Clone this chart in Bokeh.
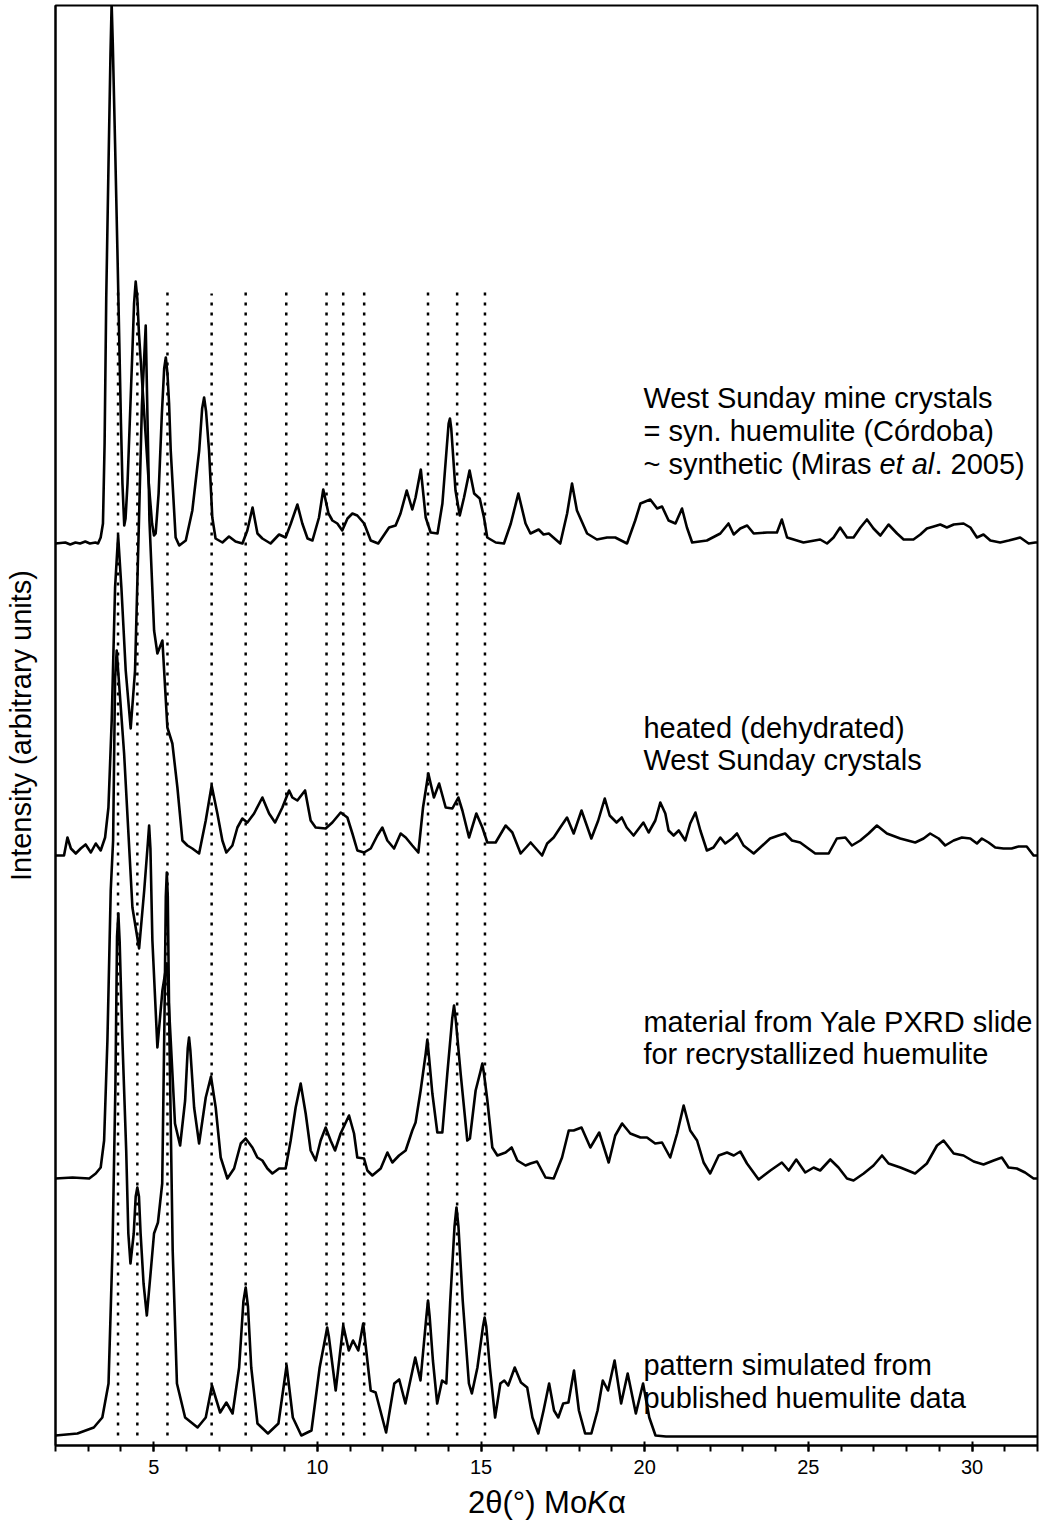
from bokeh.plotting import figure
from bokeh.models import Range1d, SingleIntervalTicker, FixedTicker, Label
from bokeh.layouts import column
from bokeh.core.properties import value
from bokeh.embed import file_html
from bokeh.resources import INLINE

# ---------------- data (2θ in degrees, intensity in arbitrary units above each pattern's own baseline) ----------------
west_sunday_2theta = [2.00, 2.30, 2.45, 2.61, 2.75, 2.91, 3.05, 3.22, 3.30, 3.38, 3.45, 3.50, 3.55, 3.62, 3.68, 3.715,
                      3.75, 3.82, 3.89, 3.95, 4.00, 4.045, 4.10, 4.14, 4.20, 4.35, 4.40, 4.45, 4.50, 4.55, 4.65, 4.75,
                      4.85, 4.95, 5.01, 5.06, 5.15, 5.25, 5.32, 5.37, 5.42, 5.47, 5.52, 5.67, 5.78, 5.98, 6.18, 6.39,
                      6.48, 6.54, 6.60, 6.69, 6.79, 6.89,
                      7.10, 7.30, 7.50, 7.71, 7.86, 8.02, 8.17, 8.32, 8.57, 8.83, 9.03, 9.19, 9.39, 9.54, 9.70, 9.85,
                      10.05, 10.18, 10.34, 10.46, 10.61, 10.76, 10.92, 11.07, 11.22, 11.43, 11.63, 11.86, 12.19, 12.39,
                      12.54, 12.73, 12.90, 13.00, 13.16, 13.31, 13.46, 13.67, 13.82, 13.95, 14.01, 14.05, 14.09, 14.22,
                      14.35, 14.48, 14.65,
                      14.79, 14.96, 15.09, 15.19, 15.45, 15.70, 15.91, 16.14, 16.36, 16.51, 16.76, 16.91, 17.07, 17.42,
                      17.63, 17.78, 17.93, 18.24, 18.54, 18.85, 19.10, 19.46, 19.71, 19.87, 20.17, 20.38, 20.53, 20.73,
                      20.94, 21.14, 21.29, 21.45, 21.90, 22.31, 22.56, 22.72, 22.92, 23.13, 23.33, 23.74, 24.04, 24.19,
                      24.35, 24.85, 25.36, 25.57, 25.77, 25.97, 26.18, 26.38, 26.59, 26.79, 26.99, 27.20, 27.45, 27.71,
                      27.91, 28.21, 28.42, 28.62, 28.83, 29.03, 29.23, 29.44, 29.74, 29.95, 30.15, 30.35, 30.56, 30.86,
                      31.12, 31.47, 31.73, 31.93, 32.00]
west_sunday_int = [0, 1, -1, 1, 0, 2, 0, 1, 0, 6, 20, 100, 245, 380, 490, 540,
                   500, 400, 295, 200, 120, 60, 18, 25, 60, 193, 240, 262, 245, 210, 160, 110,
                   60, 20, 8, 10, 50, 130, 175, 186, 170, 140, 93, 6, -2, 3, 33, 93,
                   135, 146, 132, 93, 26, 5,
                   1, 7, 2, 0, 13, 36, 10, 5, 0, 9, 6, 20, 39, 20, 5, 3,
                   26, 54, 30, 23, 20, 13, 25, 30, 28, 20, 3, 0, 16, 18,
                   30, 53, 34, 46, 74, 26, 11, 10, 40, 95, 120, 125, 115, 53,
                   28, 46, 73,
                   50, 45, 26, 6, 1, 0, 20, 50, 20, 10, 14, 9, 10, 0,
                   30, 60, 33, 10, 4, 6, 6, 0, 23, 40, 44, 35, 37, 23,
                   20, 35, 16, 1, 3, 10, 20, 9, 15, 18, 10, 11, 11, 24,
                   6, 1, 4, 0, 6, 16, 6, 6, 16, 24, 15, 8, 19, 10,
                   4, 4, 9, 15, 17, 19, 16, 19, 20, 16, 6, 9, 3, 1,
                   3, 6, 0, 1, 1]

heated_2theta = [2.00, 2.26, 2.365, 2.47, 2.62, 2.77, 2.92, 3.08, 3.23, 3.38, 3.515, 3.617, 3.717, 3.82, 3.913,
                 4.013, 4.145, 4.297, 4.43, 4.55, 4.64, 4.756, 4.87, 5.012, 5.113, 5.266, 5.418, 5.57, 5.724, 5.877,
                 6.03, 6.18, 6.387, 6.59, 6.77, 6.945, 7.098, 7.22, 7.404, 7.557, 7.709, 7.862, 8.067, 8.32, 8.525,
                 8.708, 8.93, 9.136, 9.236, 9.389, 9.624, 9.795, 9.948, 10.253, 10.458, 10.712, 10.917, 11.07,
                 11.222, 11.426, 11.63, 11.833, 11.985, 12.138, 12.343, 12.544, 12.70, 12.90, 13.085, 13.228, 13.39,
                 13.56, 13.72, 13.92, 14.124, 14.307, 14.43, 14.634, 14.857, 15.04, 15.193, 15.446, 15.752, 15.956,
                 16.21, 16.515, 16.865, 17.02, 17.22, 17.42, 17.627, 17.83, 18.07, 18.37, 18.58, 18.78, 18.93, 19.14,
                 19.30, 19.45, 19.66, 19.96, 20.12, 20.324, 20.477, 20.63, 20.73, 20.884, 21.04, 21.24, 21.39, 21.55,
                 21.70, 21.90, 22.10, 22.31, 22.46, 22.67, 22.82, 23.02, 23.33, 23.53, 23.83, 24.09, 24.29, 24.50,
                 24.75, 25.00, 25.21, 25.62, 25.87, 26.13, 26.33, 26.585, 26.84, 27.094, 27.40, 27.807, 28.265,
                 28.52, 28.72, 28.98, 29.18, 29.437, 29.69, 29.946, 30.15, 30.30, 30.505, 30.71, 30.96, 31.21, 31.42,
                 31.67, 31.88, 32.00]
heated_int = [0, 0, 18, 7, 2, 7, 11, 3, 12, 5, 18, 48, 135, 268, 320,
              268, 185, 127, 185, 335, 450, 530, 335, 225, 202, 215, 128, 112, 68, 15,
              10, 7, 2, 35, 70, 42, 15, 3, 10, 28, 37, 33, 42, 58, 42,
              33, 48, 65, 58, 55, 65, 35, 28, 27, 33, 43, 38, 22,
              5, 3, 7, 20, 28, 15, 7, 22, 18, 10, 3, 48, 82,
              58, 72, 48, 47, 58, 45, 18, 42, 28, 13, 13, 30, 23,
              2, 13, 0, 12, 18, 28, 38, 22, 45, 17, 35, 57, 40, 33,
              38, 28, 20, 33, 23, 35, 53, 42, 25, 20, 25, 15, 32, 43,
              25, 5, 8, 18, 12, 17, 22, 10, 2, 8, 17, 20, 22, 15,
              13, 7, 2, 2, 17, 18, 10, 15, 22, 30, 22, 17, 13,
              17, 22, 17, 10, 15, 18, 17, 12, 17, 13, 8, 7, 7, 9,
              9, 0, 0]

yale_2theta = [2.00, 2.52, 3.03, 3.23, 3.38, 3.485, 3.586, 3.687, 3.76, 3.82, 3.87, 3.92, 4.096, 4.35, 4.554, 4.71,
               4.82, 4.86, 4.90, 4.96,
               5.113, 5.266, 5.397, 5.52, 5.65, 5.807, 5.96, 6.04, 6.08, 6.12, 6.235, 6.387, 6.59, 6.75, 6.894,
               7.047, 7.25,
               7.456, 7.66, 7.81, 8.015, 8.167, 8.32, 8.473, 8.626, 8.83, 9.03, 9.185, 9.337, 9.49, 9.643, 9.795,
               9.948, 10.10, 10.253, 10.405, 10.54, 10.71, 10.967, 11.12, 11.22, 11.426, 11.527, 11.68, 11.935,
               12.14, 12.29, 12.495, 12.697, 12.90, 13.00, 13.155, 13.31, 13.36, 13.41, 13.513, 13.665, 13.818,
               13.97, 14.12, 14.175, 14.23,
               14.377, 14.58, 14.66, 14.835, 14.99, 15.04, 15.09, 15.193, 15.345, 15.50, 15.75, 15.936, 16.11,
               16.36, 16.51,
               16.71, 16.97, 17.22, 17.475, 17.68, 17.83, 18.07, 18.34, 18.61, 18.90, 19.10, 19.31, 19.56, 19.87,
               20.07, 20.32, 20.53, 20.78, 20.99, 21.19, 21.39, 21.60, 21.80, 22.00, 22.26, 22.515, 22.72, 22.92,
               23.125, 23.48, 23.84, 24.19, 24.40, 24.63, 24.905, 25.16, 25.36, 25.67, 25.92, 26.18, 26.38, 26.69,
               26.99, 27.25, 27.45, 27.81, 28.26, 28.62, 28.93, 29.13, 29.44, 29.74, 30.05, 30.35, 30.66, 30.91,
               31.115, 31.37, 31.62, 31.88, 32.00]
yale_int = [0, 1, 0, 5, 11, 38, 138, 288, 338, 500, 528, 505, 425, 271, 230, 288,
            335, 353, 330, 238,
            131, 188, 215, 138, 55, 33, 78, 130, 141, 128, 71, 35, 81, 102, 71,
            21, 0,
            10, 35, 40, 31, 21, 18, 10, 5, 10, 10, 38, 71, 95, 65, 28,
            18, 38, 51, 38, 28, 45, 63, 45, 21, 20, 8, 3, 10,
            26, 16, 23, 28, 48, 56, 88, 125, 139, 122, 85, 46, 46,
            105, 160, 173, 158,
            105, 38, 40, 88, 108, 115, 105, 78, 31, 23, 26, 31, 18,
            13, 15,
            17, 1, 0, 21, 48, 48, 51, 31, 46, 16, 43, 55, 45, 41,
            41, 35, 36, 21, 45, 73, 48, 38, 16, 5, 23, 26, 23, 27,
            15, -1, 8, 16, 8, 19, 6, 11, 8, 19, 11, 0, -2, 5,
            13, 23, 15, 11, 5, 15, 33, 38, 25, 23, 17, 14, 18, 21,
            11, 10, 6, 0, 0]

simulated_2theta = [2.00, 2.67, 3.17, 3.43, 3.62, 3.74, 3.83, 3.88, 3.92, 3.96, 4.04, 4.16, 4.225, 4.29, 4.39,
                    4.45, 4.50, 4.55, 4.60,
                    4.69, 4.79, 4.92, 5.01, 5.13, 5.26, 5.33, 5.37, 5.40, 5.43, 5.48, 5.58, 5.71, 5.96, 6.34, 6.59,
                    6.78, 7.03, 7.22, 7.41, 7.61, 7.74, 7.81, 7.88, 7.98, 8.17, 8.49, 8.81, 9.06, 9.25, 9.51, 9.82,
                    10.07, 10.25, 10.30, 10.35, 10.56,
                    10.79, 10.96, 11.09, 11.25, 11.40, 11.63, 11.78, 12.10, 12.35, 12.50, 12.69, 12.99, 13.15, 13.33,
                    13.38, 13.43,
                    13.53, 13.66, 13.81, 13.94, 14.06, 14.19, 14.25, 14.31, 14.44, 14.63, 14.72, 14.89, 15.06, 15.11,
                    15.16, 15.27, 15.43,
                    15.59, 15.71, 15.83, 16.03, 16.22, 16.41, 16.57, 16.75, 16.91, 17.08, 17.23, 17.36, 17.51, 17.67,
                    17.84, 17.99, 18.18, 18.37, 18.56, 18.72, 18.88, 19.08, 19.28, 19.48, 19.73, 19.95, 20.14, 20.33,
                    20.65, 32.00]
simulated_int = [1, 3, 9, 19, 53, 186, 350, 500, 523, 495, 400, 286, 203, 173, 203,
                 240, 249, 240, 203,
                 153, 121, 169, 203, 214, 253, 420, 540, 564, 540, 400, 186, 53, 19, 9, 19,
                 51, 24, 34, 23, 69, 135, 149, 130, 69, 13, 3, 13, 71, 19, 1, 6,
                 69, 100, 109, 100, 46,
                 111, 86, 96, 86, 113, 46, 44, 4, 53, 57, 33, 79, 56, 120,
                 136, 120,
                 76, 33, 56, 53, 136, 210, 229, 210, 136, 53, 43, 69, 110, 119,
                 110, 69, 19,
                 53, 56, 51, 69, 54, 49, 19, 3, 26, 53, 26, 19, 33, 34,
                 66, 26, 3, 3, 26, 56, 46, 76, 33, 63, 23, 53, 19, 1,
                 0, 0]

reference_peaks_2theta = [3.91, 4.50, 5.42, 6.77, 7.81, 9.05, 10.28, 10.79, 11.43, 13.38, 14.27, 15.12]

label_west_sunday = ["West Sunday mine crystals", "= syn. huemulite (Córdoba)"]
label_west_sunday_3 = ["~ synthetic (Miras ", "et al", ". 2005)"]
label_heated = ["heated (dehydrated)", "West Sunday crystals"]
label_yale = ["material from Yale PXRD slide", "for recrystallized huemulite"]
label_simulated = ["pattern simulated from", "published huemulite data"]
x_title_parts = ["2θ(°) Mo", "K", "α"]
y_title = "Intensity (arbitrary units)"

# ---------------- layout ----------------
offsets = {"west": 902, "heated": 590, "yale": 267, "sim": 9}
FONT = "Liberation Sans"
FS = "29px"

p = figure(width=1044, height=1485, output_backend="svg", toolbar_location=None,
           x_range=Range1d(2, 32), y_range=Range1d(0, 1440),
           min_border_left=55, min_border_right=7, min_border_top=5, min_border_bottom=40)
p.background_fill_color = "white"
p.border_fill_color = "white"
p.outline_line_color = "black"
p.outline_line_width = 2
p.xgrid.visible = False
p.ygrid.visible = False

ax = p.xaxis[0]
ax.ticker = SingleIntervalTicker(interval=5, num_minor_ticks=5)
ax.axis_line_width = 2
ax.axis_line_color = "black"
ax.major_tick_line_width = 2
ax.minor_tick_line_width = 2
ax.major_tick_in = 4
ax.major_tick_out = 6
ax.minor_tick_in = 0
ax.minor_tick_out = 6
ax.major_label_text_font = FONT
ax.major_label_text_font_size = "20px"
ax.major_label_text_color = "black"
ax.major_label_standoff = 8

ay = p.yaxis[0]
ay.ticker = FixedTicker(ticks=[])
ay.axis_line_width = 2
ay.axis_line_color = "black"
ay.major_tick_line_color = None
ay.minor_tick_line_color = None
ay.major_label_text_font_size = "0px"
ay.axis_label = y_title
ay.axis_label_text_font = FONT
ay.axis_label_text_font_size = FS
ay.axis_label_text_font_style = "normal"
ay.axis_label_text_color = "black"
ay.axis_label_standoff = 19

# dotted reference lines
tops = [1158 if t != 6.77 else 1152 for t in reference_peaks_2theta]
p.segment(x0=reference_peaks_2theta, y0=[10] * len(reference_peaks_2theta),
          x1=reference_peaks_2theta, y1=tops, line_color="black", line_width=2.5, line_dash="3 7")

def draw(xs, ys, off):
    p.line(xs, [v + off for v in ys], line_color="black", line_width=2.6, line_join="round")

draw(west_sunday_2theta, west_sunday_int, offsets["west"])
draw(heated_2theta, heated_int, offsets["heated"])
draw(yale_2theta, yale_int, offsets["yale"])
draw(simulated_2theta, simulated_int, offsets["sim"])

def lab(x, y, text, style="normal", xo=0):
    p.add_layout(Label(x=x, y=y, text=text, text_font=FONT, text_font_size=FS, text_font_style=style,
                       text_color="black", text_align="left", text_baseline="alphabetic", x_offset=xo))

LX = 19.96
lab(LX, 1048, label_west_sunday[0])
lab(LX, 1015, label_west_sunday[1])
lab(LX, 982, label_west_sunday_3[0])
lab(LX, 982, label_west_sunday_3[1], style="italic", xo=236)
lab(LX, 982, label_west_sunday_3[2], xo=291)
lab(LX, 718, label_heated[0])
lab(LX, 686, label_heated[1])
lab(LX, 424, label_yale[0])
lab(LX, 392, label_yale[1])
lab(LX, 81, label_simulated[0])
lab(LX, 48, label_simulated[1])

# x-axis title strip (shares the x scale) so that "K" can be italic
xt = figure(width=1044, height=41, output_backend="svg", toolbar_location=None,
            x_range=p.x_range, y_range=Range1d(0, 41),
            min_border_left=55, min_border_right=7, min_border_top=0, min_border_bottom=0)
xt.outline_line_color = None
xt.xaxis.visible = False
xt.yaxis.visible = False
xt.xgrid.visible = False
xt.ygrid.visible = False
xt.background_fill_color = "white"
xt.border_fill_color = "white"
TS = "31px"
TX, TY = 14.6, 24
xt.text(x=[TX], y=[TY], text=[x_title_parts[0]], text_font=value(FONT), text_font_size=TS,
        text_align="left", text_baseline="middle", text_color="black")
xt.text(x=[TX], y=[TY], text=[x_title_parts[1]], text_font=value(FONT), text_font_size=TS,
        text_font_style="italic", text_align="left", text_baseline="middle", text_color="black", x_offset=119)
xt.text(x=[TX], y=[TY], text=[x_title_parts[2]], text_font=value(FONT), text_font_size=TS,
        text_align="left", text_baseline="middle", text_color="black", x_offset=140)

layout = column(p, xt, spacing=0)
open("out.html", "w").write(file_html(layout, INLINE))
